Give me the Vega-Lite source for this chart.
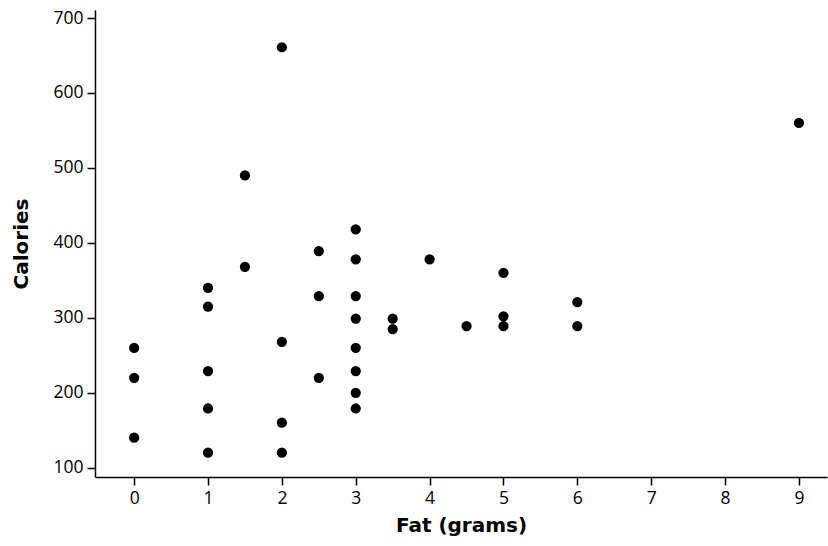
{
  "$schema": "https://vega.github.io/schema/vega-lite/v6.json",
  "width": 732,
  "height": 467,
  "autosize": "none",
  "padding": {"left": 95, "top": 10, "right": 1, "bottom": 69},
  "background": "white",
  "config": {"view": {"stroke": null}},
  "data": {"values": [
    {"fat": 0, "cal": 260}, {"fat": 0, "cal": 220}, {"fat": 0, "cal": 140},
    {"fat": 1, "cal": 340}, {"fat": 1, "cal": 315}, {"fat": 1, "cal": 229}, {"fat": 1, "cal": 179}, {"fat": 1, "cal": 120},
    {"fat": 1.5, "cal": 490}, {"fat": 1.5, "cal": 368},
    {"fat": 2, "cal": 661}, {"fat": 2, "cal": 268}, {"fat": 2, "cal": 160}, {"fat": 2, "cal": 120},
    {"fat": 2.5, "cal": 389}, {"fat": 2.5, "cal": 329}, {"fat": 2.5, "cal": 220},
    {"fat": 3, "cal": 418}, {"fat": 3, "cal": 378}, {"fat": 3, "cal": 329}, {"fat": 3, "cal": 299}, {"fat": 3, "cal": 260}, {"fat": 3, "cal": 229}, {"fat": 3, "cal": 200}, {"fat": 3, "cal": 179},
    {"fat": 3.5, "cal": 299}, {"fat": 3.5, "cal": 285},
    {"fat": 4, "cal": 378},
    {"fat": 4.5, "cal": 289},
    {"fat": 5, "cal": 360}, {"fat": 5, "cal": 302}, {"fat": 5, "cal": 289},
    {"fat": 6, "cal": 321}, {"fat": 6, "cal": 289},
    {"fat": 9, "cal": 560}
  ]},
  "mark": {"type": "point", "filled": true, "color": "black", "opacity": 1, "size": 105},
  "encoding": {
    "x": {"field": "fat", "type": "quantitative", "title": "Fat (grams)",
      "scale": {"domain": [-0.53, 9.38], "nice": false, "zero": false},
      "axis": {"values": [0,1,2,3,4,5,6,7,8,9], "grid": false, "domainColor": "black", "domainWidth": 1.5, "tickColor": "black", "tickWidth": 1.5, "tickSize": 8,
        "labelFont": "Open Sans", "labelFontSize": 17.5, "labelColor": "black", "labelPadding": 4,
        "titleFont": "DejaVu Sans", "titleFontSize": 20, "titleFontWeight": "bold", "titleColor": "black", "titlePadding": 9}},
    "y": {"field": "cal", "type": "quantitative", "title": "Calories",
      "scale": {"domain": [87.6, 710.7], "nice": false, "zero": false},
      "axis": {"values": [100,200,300,400,500,600,700], "grid": false, "domainColor": "black", "domainWidth": 1.5, "tickColor": "black", "tickWidth": 1.5, "tickSize": 8,
        "labelFont": "Open Sans", "labelFontSize": 17.5, "labelColor": "black", "labelPadding": 4,
        "titleFont": "DejaVu Sans", "titleFontSize": 20, "titleFontWeight": "bold", "titleColor": "black", "titlePadding": 21}}
  }
}
